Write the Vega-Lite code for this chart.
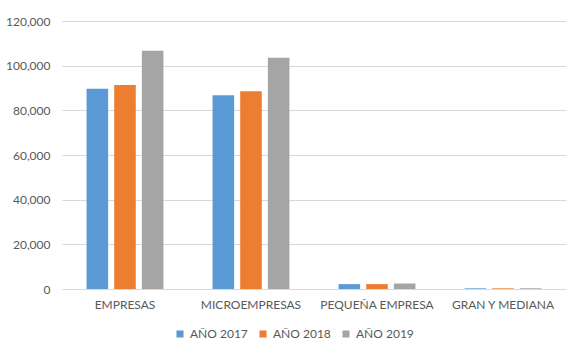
{
  "$schema": "https://vega.github.io/schema/vega-lite/v6.json",
  "width": 504,
  "height": 268,
  "autosize": {"type": "none"},
  "padding": {"left": 62, "top": 21, "right": 21, "bottom": 73},
  "background": "white",
  "data": {
    "values": [
      {"categoria": "EMPRESAS", "serie": "AÑO 2017", "valor": 89700},
      {"categoria": "EMPRESAS", "serie": "AÑO 2018", "valor": 91300},
      {"categoria": "EMPRESAS", "serie": "AÑO 2019", "valor": 106700},
      {"categoria": "MICROEMPRESAS", "serie": "AÑO 2017", "valor": 86800},
      {"categoria": "MICROEMPRESAS", "serie": "AÑO 2018", "valor": 88600},
      {"categoria": "MICROEMPRESAS", "serie": "AÑO 2019", "valor": 103600},
      {"categoria": "PEQUEÑA EMPRESA", "serie": "AÑO 2017", "valor": 2200},
      {"categoria": "PEQUEÑA EMPRESA", "serie": "AÑO 2018", "valor": 2200},
      {"categoria": "PEQUEÑA EMPRESA", "serie": "AÑO 2019", "valor": 2450},
      {"categoria": "GRAN Y MEDIANA", "serie": "AÑO 2017", "valor": 300},
      {"categoria": "GRAN Y MEDIANA", "serie": "AÑO 2018", "valor": 300},
      {"categoria": "GRAN Y MEDIANA", "serie": "AÑO 2019", "valor": 320}
    ]
  },
  "mark": {"type": "bar"},
  "encoding": {
    "x": {
      "field": "categoria",
      "type": "nominal",
      "sort": ["EMPRESAS", "MICROEMPRESAS", "PEQUEÑA EMPRESA", "GRAN Y MEDIANA"],
      "scale": {"paddingInner": 0.39, "paddingOuter": 0.195},
      "axis": {
        "title": null,
        "labelAngle": 0,
        "domain": false,
        "ticks": false,
        "labelPadding": 10,
        "labelFont": "Lato",
        "labelFontSize": 12,
        "labelColor": "#595959",
        "grid": false
      }
    },
    "xOffset": {
      "field": "serie",
      "type": "nominal",
      "scale": {"paddingInner": 0.22, "paddingOuter": 0}
    },
    "y": {
      "field": "valor",
      "type": "quantitative",
      "scale": {"domain": [0, 120000]},
      "axis": {
        "title": null,
        "values": [0, 20000, 40000, 60000, 80000, 100000, 120000],
        "format": ",.0f",
        "domain": false,
        "ticks": false,
        "labelPadding": 12,
        "labelFont": "Lato",
        "labelFontSize": 12,
        "labelColor": "#595959",
        "gridColor": "#d9d9d9",
        "gridWidth": 1
      }
    },
    "color": {
      "field": "serie",
      "type": "nominal",
      "scale": {
        "domain": ["AÑO 2017", "AÑO 2018", "AÑO 2019"],
        "range": ["#5B9BD5", "#ED7D31", "#A5A5A5"]
      },
      "legend": {
        "title": null,
        "orient": "none",
        "legendX": 112,
        "legendY": 307,
        "direction": "horizontal",
        "symbolType": "square",
        "symbolSize": 50,
        "symbolStrokeWidth": 0,
        "labelFont": "Lato",
        "labelFontSize": 12,
        "labelColor": "#595959",
        "columnPadding": 9
      }
    }
  },
  "config": {"view": {"stroke": null}}
}
